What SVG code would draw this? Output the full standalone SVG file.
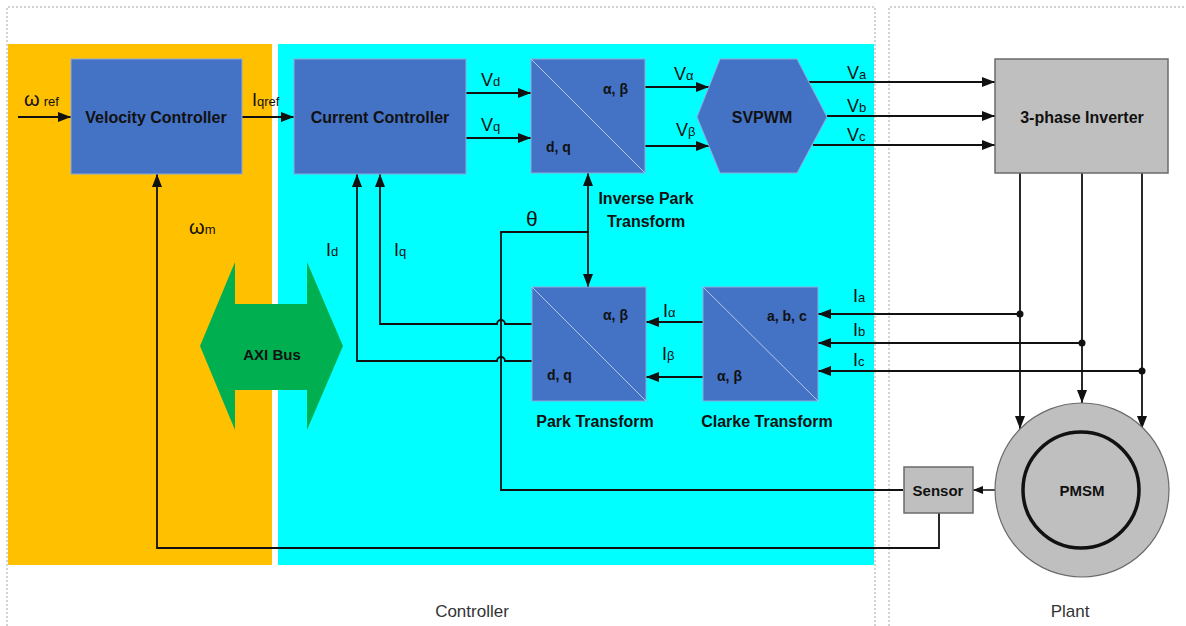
<svg xmlns="http://www.w3.org/2000/svg" width="1186" height="626" viewBox="0 0 1186 626">
<style>
.dash{fill:none;stroke:#a6a6a6;stroke-width:1;stroke-dasharray:2 2}
.blue{fill:#4472C4;stroke:#8FAADC;stroke-width:1}
.gray{fill:#BFBFBF;stroke:#6b6b6b;stroke-width:1.5}
.diag{stroke:#B4C7E7;stroke-width:1}
.bt{font-family:"Liberation Sans",Arial,sans-serif;font-weight:bold;font-size:16px;fill:#111;text-anchor:middle;dominant-baseline:central}
.st{font-family:"Liberation Sans",Arial,sans-serif;font-weight:bold;font-size:14px;fill:#111}
.lb{font-family:"Liberation Sans",Arial,sans-serif;font-size:18px;fill:#111}
.sub{font-size:13px}
.cap{font-family:"Liberation Sans",Arial,sans-serif;font-size:17px;fill:#333;text-anchor:middle}
.ln{fill:none;stroke:#111;stroke-width:1.8}
.ar{marker-end:url(#ah)}
</style>
<defs>
<marker id="ah" markerUnits="userSpaceOnUse" markerWidth="14" markerHeight="12" refX="13" refY="5" orient="auto">
<path d="M0,0 L13,5 L0,10 Z" fill="#111"/>
</marker>
<marker id="ahs" markerUnits="userSpaceOnUse" markerWidth="12" markerHeight="10" refX="10" refY="4" orient="auto">
<path d="M0,0 L10,4 L0,8 Z" fill="#111"/>
</marker>
</defs>
<rect width="1186" height="626" fill="#ffffff"/>
<g id="controller-frame">
<path class="dash" d="M7,626 V7 H875 V626"/>
<path class="dash" d="M889,626 V7 H1186"/>
<rect x="8" y="44" width="264" height="521" fill="#FFC000"/>
<rect x="278" y="44" width="596" height="521" fill="#00FFFF"/>
<text class="cap" x="472" y="617">Controller</text>
<text class="cap" x="1070" y="617">Plant</text>
</g>
<g id="connectors">
<path class="ln ar" d="M18,117 H71"/>
<path class="ln ar" d="M242,117 H294"/>
<path class="ln ar" d="M466,93 H531"/>
<path class="ln ar" d="M466,138 H531"/>
<path class="ln ar" d="M645,87 H709"/>
<path class="ln ar" d="M645,146 H709"/>
<path class="ln ar" d="M809,82 H995"/>
<path class="ln ar" d="M827,116 H995"/>
<path class="ln ar" d="M813,145 H995"/>
<path class="ln ar" d="M1020,173 V429"/>
<path class="ln ar" d="M1082,173 V403"/>
<path class="ln ar" d="M1142,173 V429"/>
<path class="ln ar" d="M1020,314 H818"/>
<path class="ln ar" d="M1082,343 H818"/>
<path class="ln ar" d="M1142,371 H818"/>
<circle cx="1020" cy="314" r="3.5" fill="#111"/>
<circle cx="1082" cy="343" r="3.5" fill="#111"/>
<circle cx="1142" cy="371" r="3.5" fill="#111"/>
<path class="ln ar" d="M703,322 H646"/>
<path class="ln ar" d="M703,377 H646"/>
<path class="ln" d="M903,490 H501 V232 H588"/>
<path class="ln ar" d="M588,232 V173"/>
<path class="ln ar" d="M588,232 V287"/>
<path class="ln ar" d="M532,324 H505 A4,4 0 0 0 497,324 H380 V174"/>
<path class="ln ar" d="M532,361 H505 A4,4 0 0 0 497,361 H357 V174"/>
<path class="ln ar" d="M939,513 V548 H157 V174"/>
<path d="M995,490 H973" fill="none" stroke="#111" stroke-width="1.5" marker-end="url(#ahs)"/>
</g>
<g id="axi-bus">
<polygon points="200,346 235,262 235,304 307,304 307,262 343,346 307,430 307,390 235,390 235,430" fill="#00B050"/>
<text class="bt" x="272" y="354" style="font-size:15px">AXI Bus</text>
</g>
<g id="velocity-controller">
<rect class="blue" x="71" y="59" width="171" height="115"/>
<text class="bt" x="156" y="117">Velocity Controller</text>
</g>
<g id="current-controller">
<rect class="blue" x="294" y="59" width="172" height="115"/>
<text class="bt" x="380" y="117">Current Controller</text>
</g>
<g id="inverse-park">
<rect class="blue" x="531" y="59" width="114" height="114"/>
<line class="diag" x1="531" y1="59" x2="645" y2="173"/>
<text class="st" x="603" y="94">α, β</text>
<text class="st" x="546" y="152">d, q</text>
<text class="bt" x="646" y="198">Inverse Park</text>
<text class="bt" x="646" y="221">Transform</text>
</g>
<g id="svpwm">
<polygon class="blue" points="697,117 720,59 797,59 827,117 797,173 720,173"/>
<text class="bt" x="762" y="117">SVPWM</text>
</g>
<g id="inverter">
<rect class="gray" x="995" y="59" width="173" height="114"/>
<text class="bt" x="1082" y="117">3-phase Inverter</text>
</g>
<g id="park">
<rect class="blue" x="532" y="287" width="114" height="114"/>
<line class="diag" x1="532" y1="287" x2="646" y2="401"/>
<text class="st" x="603" y="320">α, β</text>
<text class="st" x="547" y="380">d, q</text>
<text class="bt" x="595" y="421">Park Transform</text>
</g>
<g id="clarke">
<rect class="blue" x="703" y="287" width="115" height="114"/>
<line class="diag" x1="703" y1="287" x2="818" y2="401"/>
<text class="st" x="767" y="321">a, b, c</text>
<text class="st" x="717" y="381">α, β</text>
<text class="bt" x="767" y="421">Clarke Transform</text>
</g>
<g id="sensor">
<rect class="gray" x="904" y="467" width="69" height="46"/>
<text class="bt" x="938" y="490" style="font-size:15px">Sensor</text>
</g>
<g id="pmsm">
<circle cx="1082" cy="490" r="87" fill="#BFBFBF" stroke="#6b6b6b" stroke-width="1.2"/>
<circle cx="1081" cy="490" r="58" fill="none" stroke="#111" stroke-width="3.5"/>
<text class="bt" x="1082" y="490" style="font-size:15px">PMSM</text>
</g>
<g id="labels">
<text class="lb" x="24" y="106" style="font-size:20px">ω<tspan class="sub" dx="4">ref</tspan></text>
<text class="lb" x="252" y="106">I<tspan class="sub">qref</tspan></text>
<text class="lb" x="481" y="86">V<tspan class="sub">d</tspan></text>
<text class="lb" x="481" y="131">V<tspan class="sub">q</tspan></text>
<text class="lb" x="674" y="80">V<tspan class="sub">α</tspan></text>
<text class="lb" x="676" y="136">V<tspan class="sub">β</tspan></text>
<text class="lb" x="847" y="79">V<tspan class="sub">a</tspan></text>
<text class="lb" x="847" y="112">V<tspan class="sub">b</tspan></text>
<text class="lb" x="847" y="141">V<tspan class="sub">c</tspan></text>
<text class="lb" x="526" y="226" style="font-size:21px">θ</text>
<text class="lb" x="189" y="234" style="font-size:20px">ω<tspan class="sub">m</tspan></text>
<text class="lb" x="326" y="256">I<tspan class="sub">d</tspan></text>
<text class="lb" x="394" y="256">I<tspan class="sub">q</tspan></text>
<text class="lb" x="663" y="317">I<tspan class="sub">α</tspan></text>
<text class="lb" x="662" y="360">I<tspan class="sub">β</tspan></text>
<text class="lb" x="853" y="302">I<tspan class="sub">a</tspan></text>
<text class="lb" x="853" y="336">I<tspan class="sub">b</tspan></text>
<text class="lb" x="853" y="366">I<tspan class="sub">c</tspan></text>
</g>
</svg>
